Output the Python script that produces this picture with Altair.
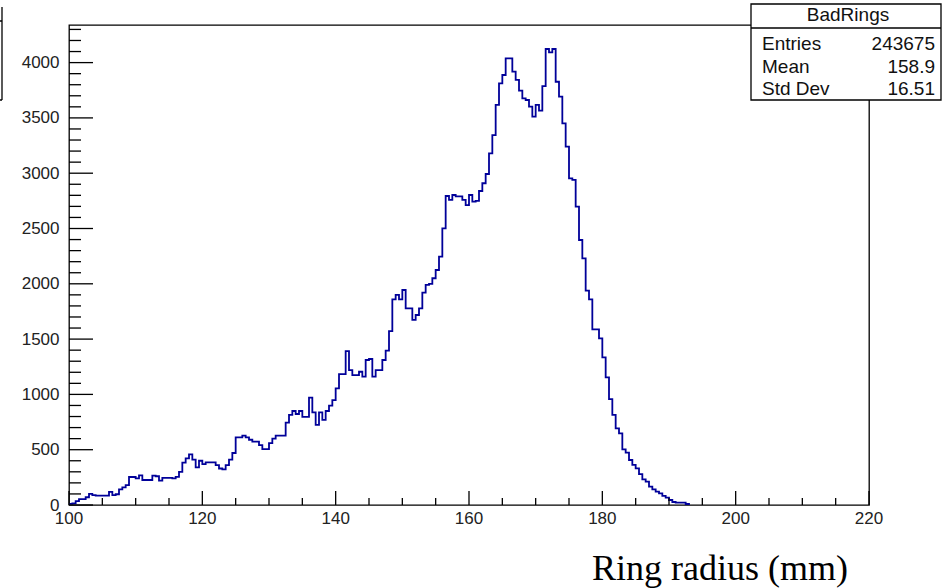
import altair as alt
import pandas as pd

# ---- data ----
x_min = 100.0
bin_width = 0.5
counts = [
    10, 15, 35, 54, 54, 70, 100, 90, 85, 85,
    85, 85, 118, 90, 97, 142, 160, 180, 253, 253,
    240, 268, 226, 226, 226, 265, 260, 220, 245, 245,
    245, 240, 255, 300, 383, 422, 458, 411, 340, 400,
    370, 385, 385, 385, 360, 330, 323, 360, 410, 470,
    612, 612, 627, 612, 590, 573, 573, 542, 506, 506,
    560, 600, 627, 627, 627, 744, 814, 850, 823, 850,
    796, 796, 970, 838, 724, 838, 769, 850, 898, 949,
    1055, 1184, 1184, 1392, 1220, 1175, 1175, 1205, 1160, 1311,
    1320, 1160, 1220, 1220, 1311, 1395, 1573, 1860, 1899, 1860,
    1944, 1778, 1778, 1673, 1718, 1778, 1920, 1990, 2000, 2050,
    2125, 2245, 2502, 2794, 2758, 2803, 2790, 2790, 2758, 2712,
    2803, 2743, 2750, 2839, 2909, 2993, 3180, 3345, 3617, 3813,
    3888, 4039, 4039, 3918, 3843, 3746, 3677, 3662, 3602, 3511,
    3617, 3565, 3788, 4123, 4093, 4123, 3827, 3692, 3451, 3240,
    2954, 2939, 2697, 2396, 2230, 1938, 1860, 1588, 1588, 1507,
    1335, 1154, 958, 814, 693, 648, 503, 473, 407, 362,
    332, 280, 232, 211, 166, 142, 121, 106, 82, 67,
    45, 27, 21, 21, 21, 9,
]
x_major = [100, 120, 140, 160, 180, 200, 220]
x_minor = [105, 110, 115, 125, 130, 135, 145, 150, 155, 165, 170, 175,
           185, 190, 195, 205, 210, 215]
y_major = [0, 500, 1000, 1500, 2000, 2500, 3000, 3500, 4000]
y_minor = [100, 200, 300, 400, 600, 700, 800, 900, 1100, 1200, 1300, 1400,
           1600, 1700, 1800, 1900, 2100, 2200, 2300, 2400, 2600, 2700, 2800,
           2900, 3100, 3200, 3300, 3400, 3600, 3700, 3800, 3900, 4100, 4200,
           4300]
stat_names = ["Entries", "Mean", "Std Dev"]
stat_values = ["243675", "158.9", "16.51"]
hist_name = "BadRings"
x_title = "Ring radius (mm)"

# ---- tables ----
edges = [x_min + bin_width * i for i in range(len(counts) + 1)]
hist = pd.DataFrame({"radius": edges, "count": counts + [0]})

W, H = 800, 480
SANS = "Liberation Sans"
LW = 1.3
xs = alt.Scale(domain=[100, 220], nice=False, zero=False)
ys = alt.Scale(domain=[0, 4340], nice=False)

line = alt.Chart(hist).mark_line(
    interpolate="step-after", color="#000099", strokeWidth=1.8
).encode(
    x=alt.X("radius:Q", scale=xs, axis=None),
    y=alt.Y("count:Q", scale=ys,
            axis=alt.Axis(values=y_major, ticks=False, domain=False, grid=False,
                          labelFont=SANS, labelFontSize=17, labelColor="#222",
                          labelPadding=10, format="d", title=None)),
)

ymaj = alt.Chart(pd.DataFrame({"v": y_major})).mark_rule(color="black", strokeWidth=LW).encode(
    y=alt.Y("v:Q", scale=ys), x=alt.value(0), x2=alt.value(24))
ymin = alt.Chart(pd.DataFrame({"v": y_minor})).mark_rule(color="black", strokeWidth=LW).encode(
    y=alt.Y("v:Q", scale=ys), x=alt.value(0), x2=alt.value(12))
xmaj = alt.Chart(pd.DataFrame({"v": x_major})).mark_rule(color="black", strokeWidth=LW).encode(
    x=alt.X("v:Q", scale=xs, axis=None), y=alt.value(H), y2=alt.value(H - 14))
xmin = alt.Chart(pd.DataFrame({"v": x_minor})).mark_rule(color="black", strokeWidth=LW).encode(
    x=alt.X("v:Q", scale=xs, axis=None), y=alt.value(H), y2=alt.value(H - 7))

xlab = alt.Chart(pd.DataFrame({"v": x_major, "lab": [str(v) for v in x_major]})).mark_text(
    font=SANS, fontSize=17, color="#222", align="center", baseline="top"
).encode(x=alt.X("v:Q", scale=xs, axis=None), y=alt.value(H + 6), text="lab:N")

one = pd.DataFrame({"a": [0]})
xtitle = alt.Chart(one).mark_text(
    font="Liberation Serif", fontSize=36, color="#000", align="left", baseline="alphabetic"
).encode(x=alt.value(523), y=alt.value(555), text=alt.value(x_title))

box = alt.Chart(one).mark_rect(fill="white", stroke="black", strokeWidth=LW).encode(
    x=alt.value(682), x2=alt.value(872), y=alt.value(-21), y2=alt.value(75))
sep = alt.Chart(one).mark_rule(color="black", strokeWidth=LW).encode(
    x=alt.value(682), x2=alt.value(872), y=alt.value(3))
title_txt = alt.Chart(one).mark_text(font=SANS, fontSize=19, align="center",
                                     baseline="alphabetic", color="#111").encode(
    x=alt.value(779), y=alt.value(-4), text=alt.value(hist_name))

row_y = [25, 47.5, 69.5]
stat_layers = []
for name, val, yy in zip(stat_names, stat_values, row_y):
    stat_layers.append(alt.Chart(one).mark_text(
        font=SANS, fontSize=19, align="left", baseline="alphabetic", color="#111"
    ).encode(x=alt.value(693), y=alt.value(yy), text=alt.value(name)))
    stat_layers.append(alt.Chart(one).mark_text(
        font=SANS, fontSize=19, align="right", baseline="alphabetic", color="#111"
    ).encode(x=alt.value(866), y=alt.value(yy), text=alt.value(val)))

# cut-off box at the left edge of the canvas
lbox_v = alt.Chart(one).mark_rule(color="black", strokeWidth=LW).encode(
    x=alt.value(-67), y=alt.value(-18), y2=alt.value(75))
lbox_h1 = alt.Chart(one).mark_rule(color="black", strokeWidth=LW).encode(
    x=alt.value(-70), x2=alt.value(-67), y=alt.value(-4))
lbox_h2 = alt.Chart(one).mark_rule(color="black", strokeWidth=LW).encode(
    x=alt.value(-70), x2=alt.value(-67), y=alt.value(75))

chart = alt.layer(
    line, ymaj, ymin, xmaj, xmin, xlab, xtitle, box, sep, title_txt, *stat_layers,
    lbox_v, lbox_h1, lbox_h2
).properties(
    width=W, height=H,
    autosize=alt.AutoSizeParams(type="none"),
    padding={"left": 69, "top": 25, "right": 74, "bottom": 83},
    background="white",
).configure_view(stroke="black", strokeWidth=LW)

chart.save("out.html", embed_options={"renderer": "svg", "actions": False})
